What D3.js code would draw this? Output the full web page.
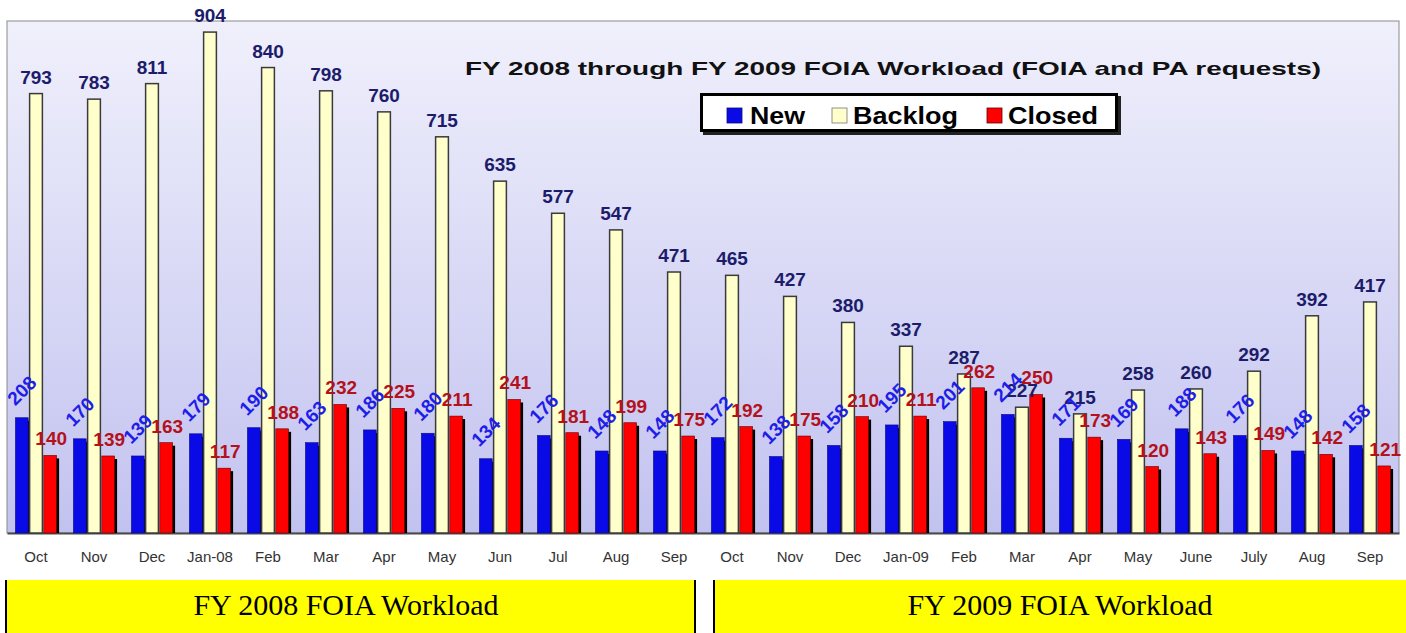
<!DOCTYPE html>
<html>
<head>
<meta charset="utf-8">
<script src="https://d3js.org/d3.v7.min.js"></script>
<style>
  body { margin: 0; background: #fff; }
  svg { display: block; }
</style>
</head>
<body>
<div id="chart"></div>
<script>
// chart values
const months = ['Oct', 'Nov', 'Dec', 'Jan-08', 'Feb', 'Mar', 'Apr', 'May', 'Jun', 'Jul', 'Aug', 'Sep',
                'Oct', 'Nov', 'Dec', 'Jan-09', 'Feb', 'Mar', 'Apr', 'May', 'June', 'July', 'Aug', 'Sep'];
const newReq  = [208, 170, 139, 179, 190, 163, 186, 180, 134, 176, 148, 148,
                 172, 138, 158, 195, 201, 214, 171, 169, 188, 176, 148, 158];
const backlog = [793, 783, 811, 904, 840, 798, 760, 715, 635, 577, 547, 471,
                 465, 427, 380, 337, 287, 227, 215, 258, 260, 292, 392, 417];
const closed  = [140, 139, 163, 117, 188, 232, 225, 211, 241, 181, 199, 175,
                 192, 175, 210, 211, 262, 250, 173, 120, 143, 149, 142, 121];
const seriesNames = ['New', 'Backlog', 'Closed'];
const fyBoxes = ['FY 2008 FOIA Workload', 'FY 2009 FOIA Workload'];

const W = 1406, H = 633;
const plot = {left: 7, top: 21, right: 1399, bottom: 533};

const svg = d3.select('#chart').append('svg')
  .attr('width', W).attr('height', H);

// background gradient of the plot area
const defs = svg.append('defs');
const grad = defs.append('linearGradient')
  .attr('id', 'bg').attr('x1', 0).attr('y1', 0).attr('x2', 0).attr('y2', 1);
grad.append('stop').attr('offset', '0%').attr('stop-color', '#f0f0fc');
grad.append('stop').attr('offset', '100%').attr('stop-color', '#c2c2f0');

svg.append('rect')
  .attr('x', plot.left).attr('y', plot.top)
  .attr('width', plot.right - plot.left).attr('height', plot.bottom - plot.top)
  .attr('fill', 'url(#bg)')
  .attr('stroke', '#8a8a8a').attr('stroke-width', 1);

// scales
const x = d3.scaleBand()
  .domain(d3.range(months.length))
  .range([plot.left, plot.right])
  .paddingInner(0.29)
  .paddingOuter(0.145);

const xs = d3.scaleBand()
  .domain(seriesNames)
  .range([0, x.bandwidth()])
  .paddingInner(0.1);

const y = d3.scaleLinear()
  .domain([0, 924])
  .range([plot.bottom, plot.top]);

// x axis
const xAxis = svg.append('g')
  .attr('transform', `translate(0,${plot.bottom})`)
  .call(d3.axisBottom(x).tickSize(0).tickSizeOuter(0).tickPadding(18).tickFormat(i => months[i]));
xAxis.select('.domain').attr('stroke', '#4a4a4a').attr('stroke-width', 2);
xAxis.selectAll('text')
  .attr('font-family', 'Arial, "Liberation Sans", sans-serif')
  .attr('font-size', 15)
  .attr('fill', '#333');

const series = [
  {name: 'New', values: newReq, fill: '#0a0ae6', stroke: '#0a0a80'},
  {name: 'Backlog', values: backlog, fill: '#ffffcc', stroke: '#3a3a3a'},
  {name: 'Closed', values: closed, fill: '#ff0000', stroke: '#600000'}
];

// bars, series by series
series.forEach(s => {
  const g = svg.append('g').attr('class', 'bars-' + s.name);
  const data = s.values.map((v, i) => ({i, v}));
  if (s.name !== 'Backlog') {
    g.selectAll('rect.shadow')
      .data(data)
      .join('rect')
        .attr('class', 'shadow')
        .attr('x', d => x(d.i) + xs(s.name) + 2.5)
        .attr('y', d => y(d.v) + 3)
        .attr('width', xs.bandwidth())
        .attr('height', d => plot.bottom - y(d.v) - 3)
        .attr('fill', '#000');
  }
  g.selectAll('rect.bar')
    .data(data)
    .join('rect')
      .attr('class', 'bar')
      .attr('x', d => x(d.i) + xs(s.name))
      .attr('y', d => y(d.v))
      .attr('width', xs.bandwidth())
      .attr('height', d => plot.bottom - y(d.v))
      .attr('fill', s.fill)
      .attr('stroke', s.stroke)
      .attr('stroke-width', s.name === 'Backlog' ? 1.5 : 0.6);
});

// value labels
const labelFont = 'Arial, "Liberation Sans", sans-serif';

svg.append('g').selectAll('text')
  .data(backlog.map((v, i) => ({i, v})))
  .join('text')
    .attr('x', d => x(d.i) + xs('Backlog') + xs.bandwidth() / 2)
    .attr('y', d => y(d.v) - 10)
    .attr('text-anchor', 'middle')
    .attr('font-family', labelFont)
    .attr('font-weight', 'bold')
    .attr('font-size', 19)
    .attr('fill', '#1c1c6a')
    .text(d => d.v);

svg.append('g').selectAll('text')
  .data(closed.map((v, i) => ({i, v})))
  .join('text')
    .attr('x', d => x(d.i) + xs('Closed') + xs.bandwidth() / 2 + 1)
    .attr('y', d => y(d.v) - 10)
    .attr('text-anchor', 'middle')
    .attr('font-family', labelFont)
    .attr('font-weight', 'bold')
    .attr('font-size', 19)
    .attr('fill', '#b3121c')
    .text(d => d.v);

svg.append('g').selectAll('text')
  .data(newReq.map((v, i) => ({i, v})))
  .join('text')
    .attr('transform', d => {
      const cx = x(d.i) + xs('New') + xs.bandwidth() / 2;
      const cy = y(d.v) - 27;
      return `translate(${cx},${cy}) rotate(-45)`;
    })
    .attr('text-anchor', 'middle')
    .attr('dominant-baseline', 'central')
    .attr('font-family', labelFont)
    .attr('font-weight', 'bold')
    .attr('font-size', 19)
    .attr('fill', '#1e1ee8')
    .text(d => d.v);

// title
svg.append('text')
  .attr('x', 465).attr('y', 75)
  .attr('font-family', labelFont)
  .attr('font-weight', 'bold')
  .attr('font-size', 19)
  .attr('fill', '#111')
  .attr('textLength', 856)
  .attr('lengthAdjust', 'spacingAndGlyphs')
  .text('FY 2008 through FY 2009 FOIA Workload (FOIA and PA requests)');

// legend
const legend = svg.append('g');
legend.append('rect')
  .attr('x', 703).attr('y', 96).attr('width', 418).attr('height', 39)
  .attr('fill', '#222');
legend.append('rect')
  .attr('x', 701.5).attr('y', 94.5).attr('width', 415).attr('height', 36)
  .attr('fill', '#fff').attr('stroke', '#000').attr('stroke-width', 3);

const legendItems = [
  {name: 'New', sx: 727, tx: 750, tw: 55, fill: '#0a0ae6', stroke: '#0a0a80'},
  {name: 'Backlog', sx: 832, tx: 853, tw: 105, fill: '#ffffcc', stroke: '#777'},
  {name: 'Closed', sx: 987, tx: 1008, tw: 90, fill: '#ff0000', stroke: '#600000'}
];
legendItems.forEach(it => {
  legend.append('rect')
    .attr('x', it.sx).attr('y', 108).attr('width', 15).attr('height', 15)
    .attr('fill', it.fill).attr('stroke', it.stroke).attr('stroke-width', 0.8);
  legend.append('text')
    .attr('x', it.tx).attr('y', 124)
    .attr('font-family', labelFont)
    .attr('font-weight', 'bold')
    .attr('font-size', 24)
    .attr('fill', '#000')
    .attr('textLength', it.tw)
    .attr('lengthAdjust', 'spacingAndGlyphs')
    .text(it.name);
});

// fiscal year boxes under the chart
const boxes = [{x0: 5, x1: 696}, {x0: 713, x1: 1408}];
boxes.forEach((b, k) => {
  svg.append('rect')
    .attr('x', b.x0).attr('y', 580).attr('width', b.x1 - b.x0).attr('height', 60)
    .attr('fill', '#ffff00');
  svg.append('line')
    .attr('x1', b.x0 + 1).attr('x2', b.x0 + 1).attr('y1', 580).attr('y2', H)
    .attr('stroke', '#000').attr('stroke-width', 2);
  svg.append('line')
    .attr('x1', b.x1 - 1).attr('x2', b.x1 - 1).attr('y1', 580).attr('y2', H)
    .attr('stroke', '#000').attr('stroke-width', 2);
  svg.append('text')
    .attr('x', k === 0 ? 346 : 1060).attr('y', 615)
    .attr('text-anchor', 'middle')
    .attr('font-family', '"Times New Roman", "Liberation Serif", serif')
    .attr('font-size', 30)
    .attr('fill', '#000')
    .text(fyBoxes[k]);
});
</script>
</body>
</html>
